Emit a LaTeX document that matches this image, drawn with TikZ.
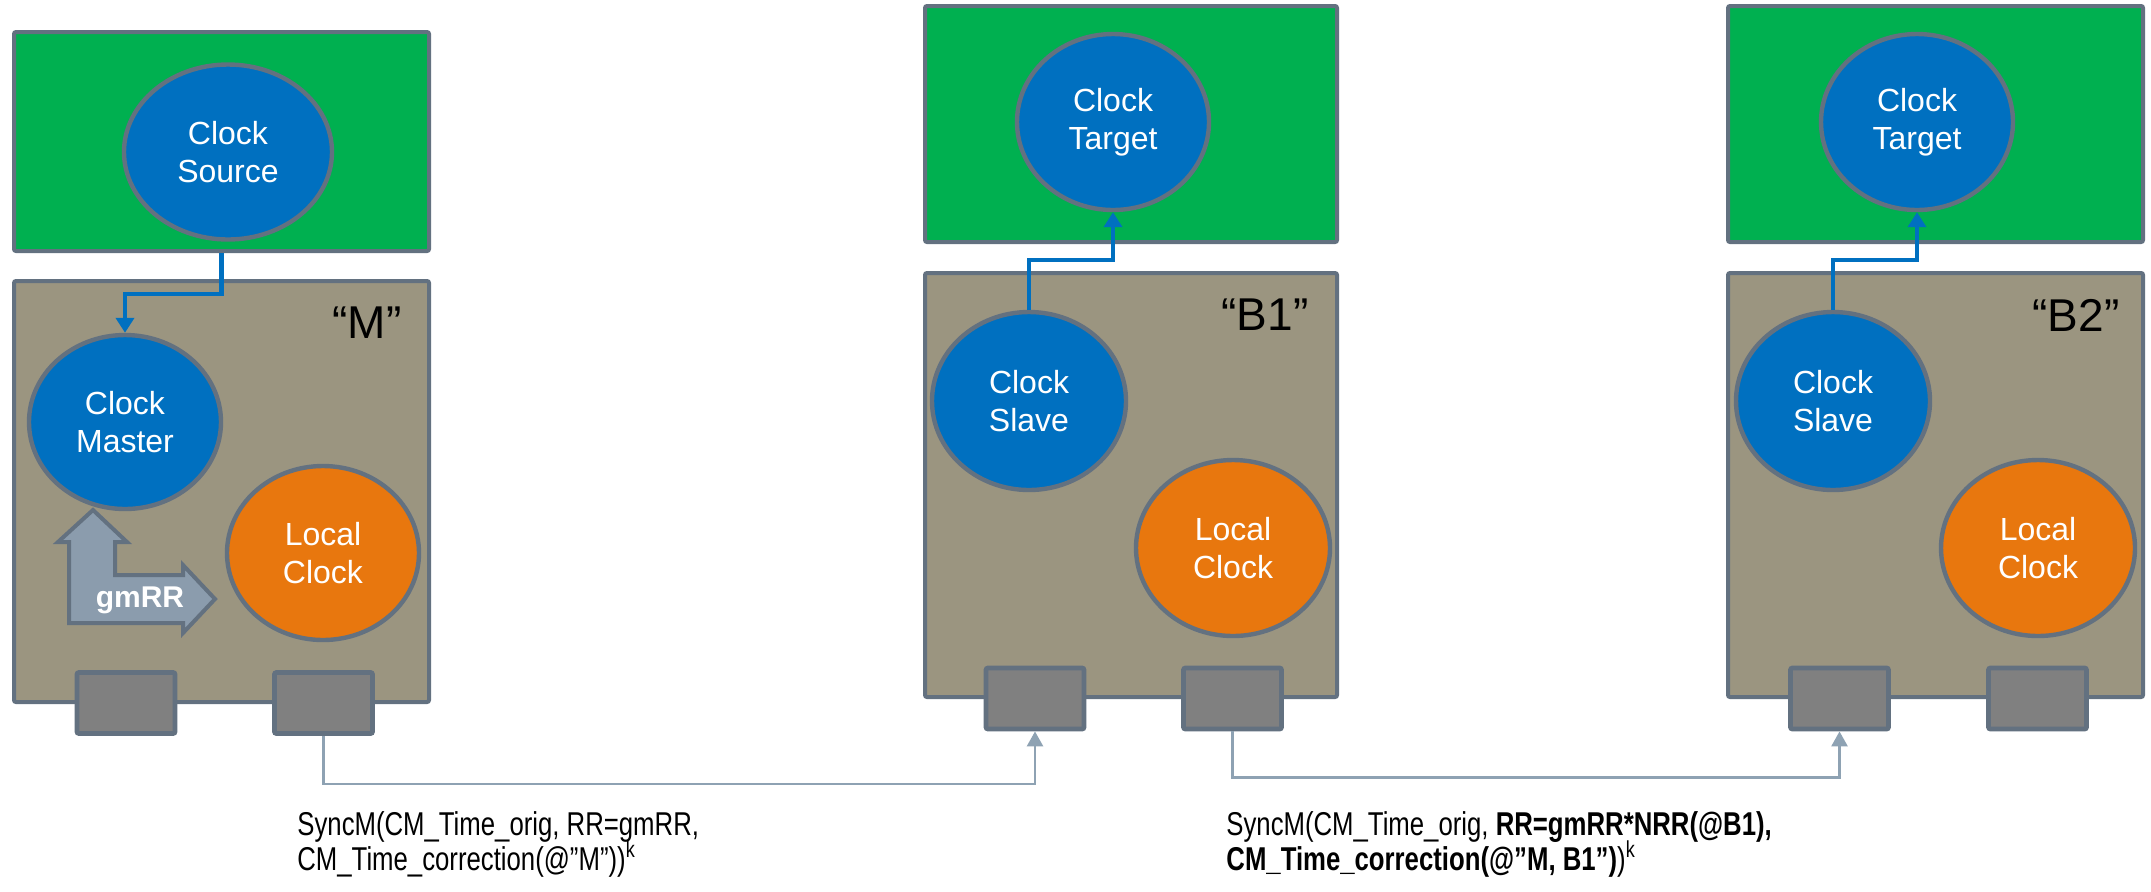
\documentclass[tikz,border=0pt]{standalone}
\usepackage{fontspec}
\setmainfont{Liberation Sans}
\newfontfamily\narrowfont[FakeStretch=0.78]{Liberation Sans}
\usetikzlibrary{arrows.meta,calc,shapes.geometric}
\definecolor{cgreen}{HTML}{00B050}
\definecolor{cblue}{HTML}{0070C0}
\definecolor{cbeige}{HTML}{9B9580}
\definecolor{corange}{HTML}{E8770E}
\definecolor{cborder}{HTML}{637180}
\definecolor{cport}{HTML}{808080}
\definecolor{cline}{HTML}{8EA2B3}
\definecolor{cgm}{HTML}{8B9CAD}
\begin{document}
\begin{tikzpicture}[x=0.5pt,y=-0.5pt,
  boxg/.style={draw=cborder,line width=2pt,fill=cgreen,rounded corners=1pt,inner sep=0pt},
  boxb/.style={draw=cborder,line width=2pt,fill=cbeige,rounded corners=1pt,inner sep=0pt},
  port/.style={draw=cborder,line width=2.4pt,fill=cport,rounded corners=1pt,inner sep=0pt,minimum width=49pt,minimum height=30.5pt},
  clk/.style={ellipse,draw=cborder,line width=2.2pt,text=white,align=center,inner sep=0pt,
    font=\fontsize{16}{19}\selectfont,minimum width=96pt,minimum height=87pt},
  blueclk/.style={clk,fill=cblue},
  orangeclk/.style={clk,fill=corange},
  boxlabel/.style={font=\fontsize{23}{27}\selectfont,text=black,inner sep=0pt},
  bluelink/.style={draw=cblue,line width=2.3pt,-{Triangle[length=7.5pt,width=9pt]}},
  graylink/.style={draw=cline,line width=1.3pt,-{Triangle[length=7.5pt,width=8pt]}},
  synclabel/.style={font=\narrowfont\fontsize{16.5}{17.5}\selectfont,anchor=base west,inner sep=0pt}
]
\useasboundingbox[fill=white] (0,0) rectangle (2151,891);

% ---------- M ----------
\node[boxg,minimum width=207.5pt,minimum height=109.5pt] (mG) at (221.5,141.5) {};
\node[boxb,minimum width=207.5pt,minimum height=210.5pt] (mB) at (221.5,491.5) {};
\node[port] (mP1) at (126,703) {};
\node[port] (mP2) at (323.5,703) {};
\node[blueclk,minimum width=104pt,minimum height=87.5pt] (mSrc) at (228,152) {Clock\\Source};
\node[blueclk] (mMaster) at (125,422) {Clock\\Master};
\node[orangeclk] (mLocal) at (323,553) {Local\\Clock};
\node[boxlabel] (mLab) at (367,323) {“M”};
\draw[fill=cgm,draw=cborder,line width=2pt,line join=miter]
  (69,623) -- (69,542) -- (58,542) -- (93,510) -- (127,542) -- (115,542) -- (115,575)
  -- (183,575) -- (183,565) -- (215,599) -- (183,633) -- (183,623) -- cycle;
\node[text=white,font=\bfseries\fontsize{15}{18}\selectfont,inner sep=0pt] (gm) at (140,600) {gmRR};
\draw[bluelink] (mG.south) -- ++(0,41) -| (mMaster.north);

% ---------- B1 ----------
\node[boxg,minimum width=206pt,minimum height=118pt] (b1G) at (1131,124) {};
\node[boxb,minimum width=206pt,minimum height=212pt] (b1B) at (1131,485) {};
\node[port] (b1P1) at (1035,698.5) {};
\node[port] (b1P2) at (1232.5,698.5) {};
\node[blueclk,minimum height=88pt] (b1Tgt) at (1113,122) {Clock\\Target};
\node[blueclk,minimum width=97pt,minimum height=89pt] (b1Slave) at (1029,401) {Clock\\Slave};
\node[orangeclk,minimum width=97pt,minimum height=88pt] (b1Local) at (1233,548) {Local\\Clock};
\node[boxlabel] (b1Lab) at (1265,315) {“B1”};
\draw[bluelink] (b1Slave.north) -- ++(0,-50) -| (b1Tgt.south);

% ---------- B2 ----------
\node[boxg,minimum width=207.5pt,minimum height=118pt] (b2G) at (1935.5,124) {};
\node[boxb,minimum width=207.5pt,minimum height=212pt] (b2B) at (1935.5,485) {};
\node[port] (b2P1) at (1839.5,698.5) {};
\node[port] (b2P2) at (2037.5,698.5) {};
\node[blueclk,minimum height=88pt] (b2Tgt) at (1917,122) {Clock\\Target};
\node[blueclk,minimum width=97pt,minimum height=89pt] (b2Slave) at (1833,401) {Clock\\Slave};
\node[orangeclk,minimum width=97pt,minimum height=88pt] (b2Local) at (2038,548) {Local\\Clock};
\node[boxlabel] (b2Lab) at (2076,315) {“B2”};
\draw[bluelink] (b2Slave.north) -- ++(0,-50) -| (b2Tgt.south);

% ---------- links between nodes ----------
\draw[graylink] (mP2.south) -- ++(0,48) -| (b1P1.south);
\draw[graylink] (b1P2.south) -- ++(0,46) -| (b2P1.south);

% ---------- labels ----------
\node[synclabel] (s1a) at (297,835) {SyncM(CM\_Time\_orig, RR=gmRR,};
\node[synclabel] (s1b) at (297,870) {CM\_Time\_correction(@”M”))\textsuperscript{k}};
\node[synclabel] (s2a) at (1226,835) {SyncM(CM\_Time\_orig, \textbf{RR=gmRR*NRR(@B1),}};
\node[synclabel] (s2b) at (1226,870) {\textbf{CM\_Time\_correction(@”M, B1”)})\textsuperscript{k}};
\end{tikzpicture}
\end{document}
